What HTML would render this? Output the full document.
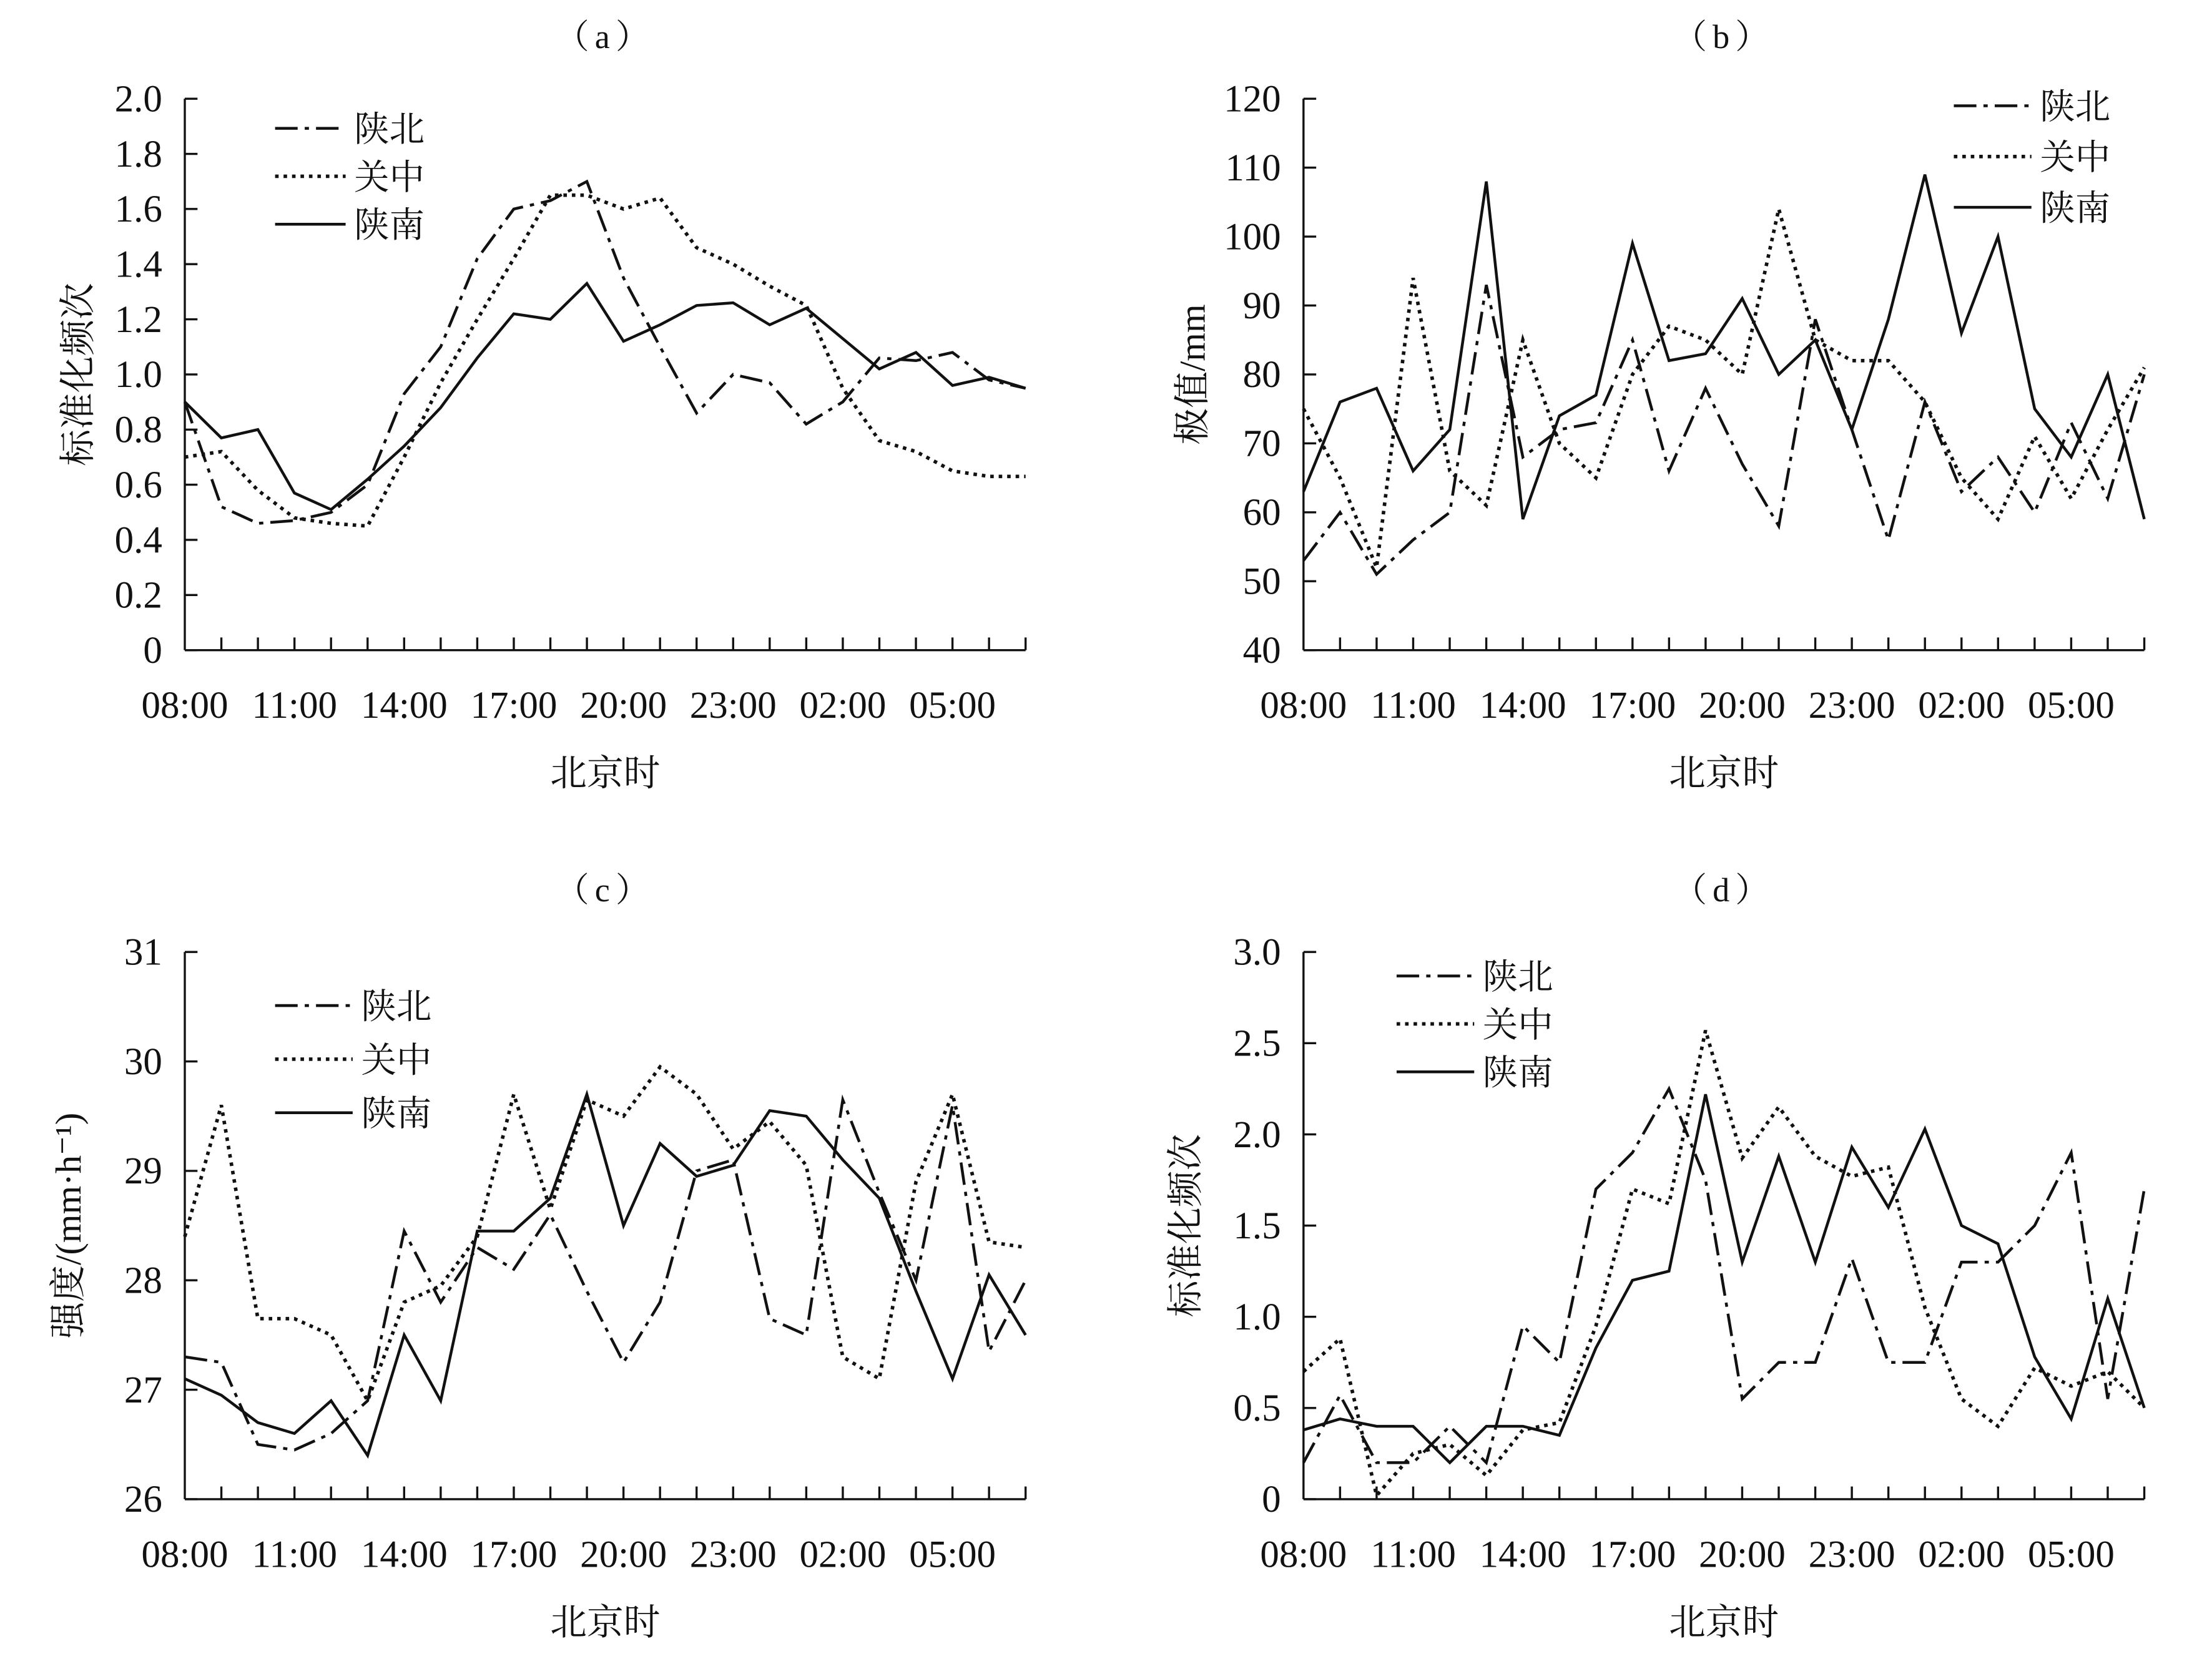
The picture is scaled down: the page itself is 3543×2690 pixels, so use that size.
<!DOCTYPE html>
<html><head><meta charset="utf-8"><style>
html,body{margin:0;padding:0;background:#fff;}
svg{display:block;}
text{font-family:"Liberation Serif","Noto Serif CJK SC","Noto Sans CJK SC",serif;fill:#111;}
</style></head><body>
<svg id="s" width="3543" height="2690" viewBox="0 0 1568 1190.5" preserveAspectRatio="none" xmlns="http://www.w3.org/2000/svg"></svg>
<script>
const S=document.getElementById('s');let h='';
const styles={sb:'stroke-dasharray="16,5,3,5"',gz:'stroke-dasharray="2.5,3.5"',sn:''};
const panels=[
{x0:131,x1:727,yb:461,yt:70,min:0,max:2,step:0.2,dec:1,title:'（a）',ylab:'标准化频次',ylx:55,
 leg:[195,245,91,34],
 d:{sb:[0.9,0.52,0.46,0.47,0.5,0.6,0.93,1.1,1.42,1.6,1.63,1.7,1.35,1.1,0.86,1.0,0.97,0.82,0.9,1.06,1.05,1.08,0.98,0.95],
 gz:[0.7,0.72,0.58,0.48,0.46,0.45,0.7,0.97,1.2,1.42,1.65,1.65,1.6,1.64,1.46,1.4,1.32,1.25,0.95,0.76,0.72,0.65,0.63,0.63],
 sn:[0.9,0.77,0.8,0.57,0.51,0.62,0.74,0.88,1.06,1.22,1.2,1.33,1.12,1.18,1.25,1.26,1.18,1.24,1.13,1.02,1.08,0.96,0.99,0.95]}},
{x0:924,x1:1520,yb:461,yt:70,min:40,max:120,step:10,dec:0,title:'（b）',ylab:'极值/mm',ylx:845,
 leg:[1385,1440,75,36],
 d:{sb:[53,60,51,56,60,93,68,72,73,85,66,78,67,58,88,72,56,76,63,68,60,73,62,80],
 gz:[75,65,52,94,66,61,85,70,65,80,87,85,80,104,85,82,82,76,65,59,71,62,72,81],
 sn:[63,76,78,66,72,108,59,74,77,99,82,83,91,80,85,72,88,109,86,100,75,68,80,59]}},
{x0:131,x1:727,yb:1063,yt:675,min:26,max:31,step:1,dec:0,title:'（c）',ylab:'强度/(mm·h⁻¹)',ylx:48,
 leg:[195,250,713,38],
 d:{sb:[27.3,27.25,26.5,26.45,26.6,26.9,28.45,27.8,28.3,28.1,28.6,27.9,27.25,27.8,29.0,29.1,27.65,27.5,29.65,28.8,28.0,29.6,27.35,28.0],
 gz:[28.4,29.6,27.65,27.65,27.5,26.9,27.8,27.95,28.4,29.7,28.65,29.65,29.5,29.95,29.7,29.2,29.45,29.05,27.3,27.1,28.9,29.7,28.35,28.3],
 sn:[27.1,26.95,26.7,26.6,26.9,26.4,27.5,26.9,28.45,28.45,28.75,29.7,28.5,29.25,28.95,29.05,29.55,29.5,29.1,28.75,27.9,27.1,28.05,27.5]}},
{x0:924,x1:1520,yb:1063,yt:675,min:0,max:3,step:0.5,dec:1,title:'（d）',ylab:'标准化频次',ylx:840,
 leg:[990,1045,692,34],
 d:{sb:[0.2,0.57,0.2,0.2,0.4,0.2,0.95,0.75,1.7,1.9,2.25,1.75,0.55,0.75,0.75,1.32,0.75,0.75,1.3,1.3,1.5,1.9,0.55,1.7],
 gz:[0.7,0.88,0.02,0.25,0.3,0.13,0.38,0.42,0.95,1.7,1.62,2.57,1.87,2.15,1.88,1.77,1.82,1.05,0.55,0.4,0.72,0.62,0.7,0.5],
 sn:[0.38,0.44,0.4,0.4,0.2,0.4,0.4,0.35,0.83,1.2,1.25,2.22,1.3,1.88,1.3,1.93,1.6,2.03,1.5,1.4,0.78,0.44,1.1,0.5]}}
];
const names={sb:'陕北',gz:'关中',sn:'陕南'};
const xl=['08:00','11:00','14:00','17:00','20:00','23:00','02:00','05:00'];
for(const p of panels){
 const dx=(p.x1-p.x0)/23, Y=v=>p.yb-(v-p.min)/(p.max-p.min)*(p.yb-p.yt);
 h+=`<text x="${(p.x0+p.x1)/2}" y="${p.yt-36}" font-size="24" text-anchor="middle" letter-spacing="4">${p.title}</text>`;
 h+=`<line x1="${p.x0}" y1="${p.yt}" x2="${p.x0}" y2="${p.yb}" stroke="#111" stroke-width="1.5"/>`;
 h+=`<line x1="${p.x0}" y1="${p.yb}" x2="${p.x1}" y2="${p.yb}" stroke="#111" stroke-width="1.5"/>`;
 for(let v=p.min;v<=p.max+1e-9;v+=p.step){const y=Y(v);
  h+=`<line x1="${p.x0}" y1="${y}" x2="${p.x0+9}" y2="${y}" stroke="#111" stroke-width="1.5"/>`;
  h+=`<text x="${p.x0-16}" y="${y+9}" font-size="27" text-anchor="end">${(Math.abs(v)<1e-9&&p.dec?'0':v.toFixed(p.dec))}</text>`;}
 for(let i=1;i<24;i++){const x=p.x0+i*dx;h+=`<line x1="${x}" y1="${p.yb}" x2="${x}" y2="${p.yb-9}" stroke="#111" stroke-width="1.5"/>`;}
 xl.forEach((t,k)=>{h+=`<text x="${p.x0+k*3*dx}" y="${p.yb+48}" font-size="27" text-anchor="middle">${t}</text>`;});
 h+=`<text x="${(p.x0+p.x1)/2}" y="${p.yb+96}" font-size="26" text-anchor="middle">北京时</text>`;
 const cy=(p.yt+p.yb)/2;
 h+=`<text x="${p.ylx}" y="${cy}" font-size="26" text-anchor="middle" transform="rotate(-90 ${p.ylx} ${cy})" dy="9">${p.ylab}</text>`;
 for(const k of ['sb','gz','sn']){
  const pts=p.d[k].map((v,i)=>`${(p.x0+i*dx).toFixed(1)},${Y(v).toFixed(1)}`).join(' ');
  h+=`<polyline points="${pts}" fill="none" stroke="#111" stroke-width="${k=='gz'?2.5:2}" ${styles[k]}/>`;
 }
 const [lx0,lx1,ly,ls]=p.leg;
 ['sb','gz','sn'].forEach((k,j)=>{const y=ly+j*ls;
  h+=`<line x1="${lx0}" y1="${y}" x2="${lx1}" y2="${y}" stroke="#111" stroke-width="${k=='gz'?2.5:2}" ${styles[k]}/>`;
  h+=`<text x="${lx1+6}" y="${y+9}" font-size="25">${names[k]}</text>`;});
}
S.innerHTML=h;
</script>
</body></html>
